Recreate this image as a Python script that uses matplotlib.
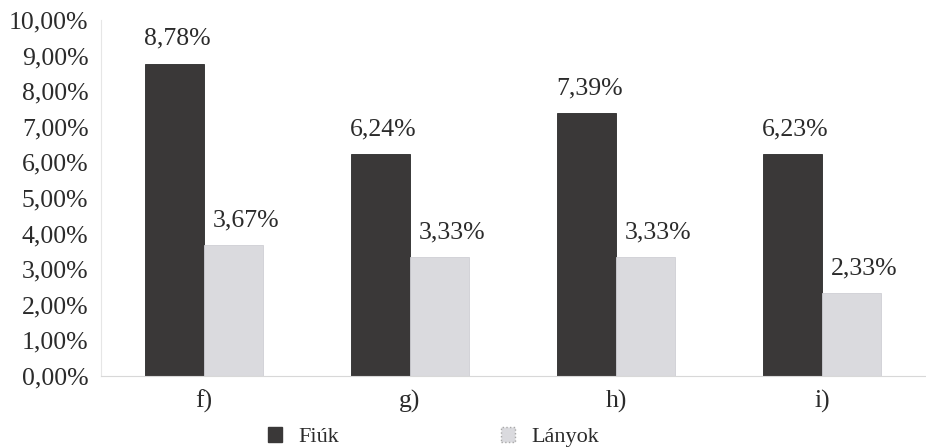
import numpy as np
import matplotlib
matplotlib.use('Agg')
from matplotlib import pyplot as plt
from matplotlib.patches import Patch

### data: share of pupils per question group, boys vs girls (percent)
categories = ['f)', 'g)', 'h)', 'i)']
fiuk = [8.78, 6.24, 7.39, 6.23]
lanyok = [3.67, 3.33, 3.33, 2.33]
series_names = ['Fiúk', 'Lányok']

plt.rcParams['font.family'] = ['Liberation Serif', 'DejaVu Serif']

dark = '#3a3838'
light = '#dadade'
txt = '#2b2b2b'

fig = plt.figure(figsize=(9.26, 4.48), dpi=100)
ax = fig.add_axes([0.109, 0.161, 0.89, 0.794])

x = np.arange(len(categories))
w = 0.285
b1 = ax.bar(x - w / 2, fiuk, width=w, color=dark, edgecolor='#2a2a2a', linewidth=0.6)
b2 = ax.bar(x + w / 2, lanyok, width=w, color=light, edgecolor='#cfcfd4', linewidth=0.6)

def fmt(v):
    return ('%.2f%%' % v).replace('.', ',')

### value labels above every bar (girls' labels sit a bit to the right)
for bars, vals, dx in ((b1, fiuk, 2), (b2, lanyok, 9)):
    for r, v in zip(bars, vals):
        ax.annotate(fmt(v), (r.get_x() + r.get_width() / 2, v),
                    xytext=(dx, 10), textcoords='offset points',
                    ha='center', va='bottom', fontsize=18.5, color=txt)

ax.set_xlim(-0.5, len(categories) - 0.5)
ax.set_ylim(0, 10)
ax.set_yticks(np.arange(0, 11, 1))
ax.set_yticklabels([fmt(v) for v in np.arange(0, 11, 1)])
ax.set_xticks(x)
ax.set_xticklabels(categories)
ax.tick_params(axis='y', length=0, pad=9, labelsize=18.5, labelcolor=txt)
ax.tick_params(axis='x', length=0, pad=10, labelsize=18.5, labelcolor=txt)

for s in ('top', 'right'):
    ax.spines[s].set_visible(False)
ax.spines['left'].set_color('#e6e6e6')
ax.spines['bottom'].set_color('#d8d8d8')
ax.spines['left'].set_linewidth(0.8)
ax.spines['bottom'].set_linewidth(0.8)

handles = [Patch(facecolor=dark, edgecolor=dark),
           Patch(facecolor=light, edgecolor='#a8a8a8', linestyle=':')]
fig.legend(handles, series_names, loc='center', bbox_to_anchor=(0.468, 0.025),
           ncol=2, frameon=False, fontsize=16, handlelength=0.65, handleheight=0.65,
           handletextpad=0.7, columnspacing=7.3, labelcolor=txt)

fig.savefig('out.png', dpi=100)
